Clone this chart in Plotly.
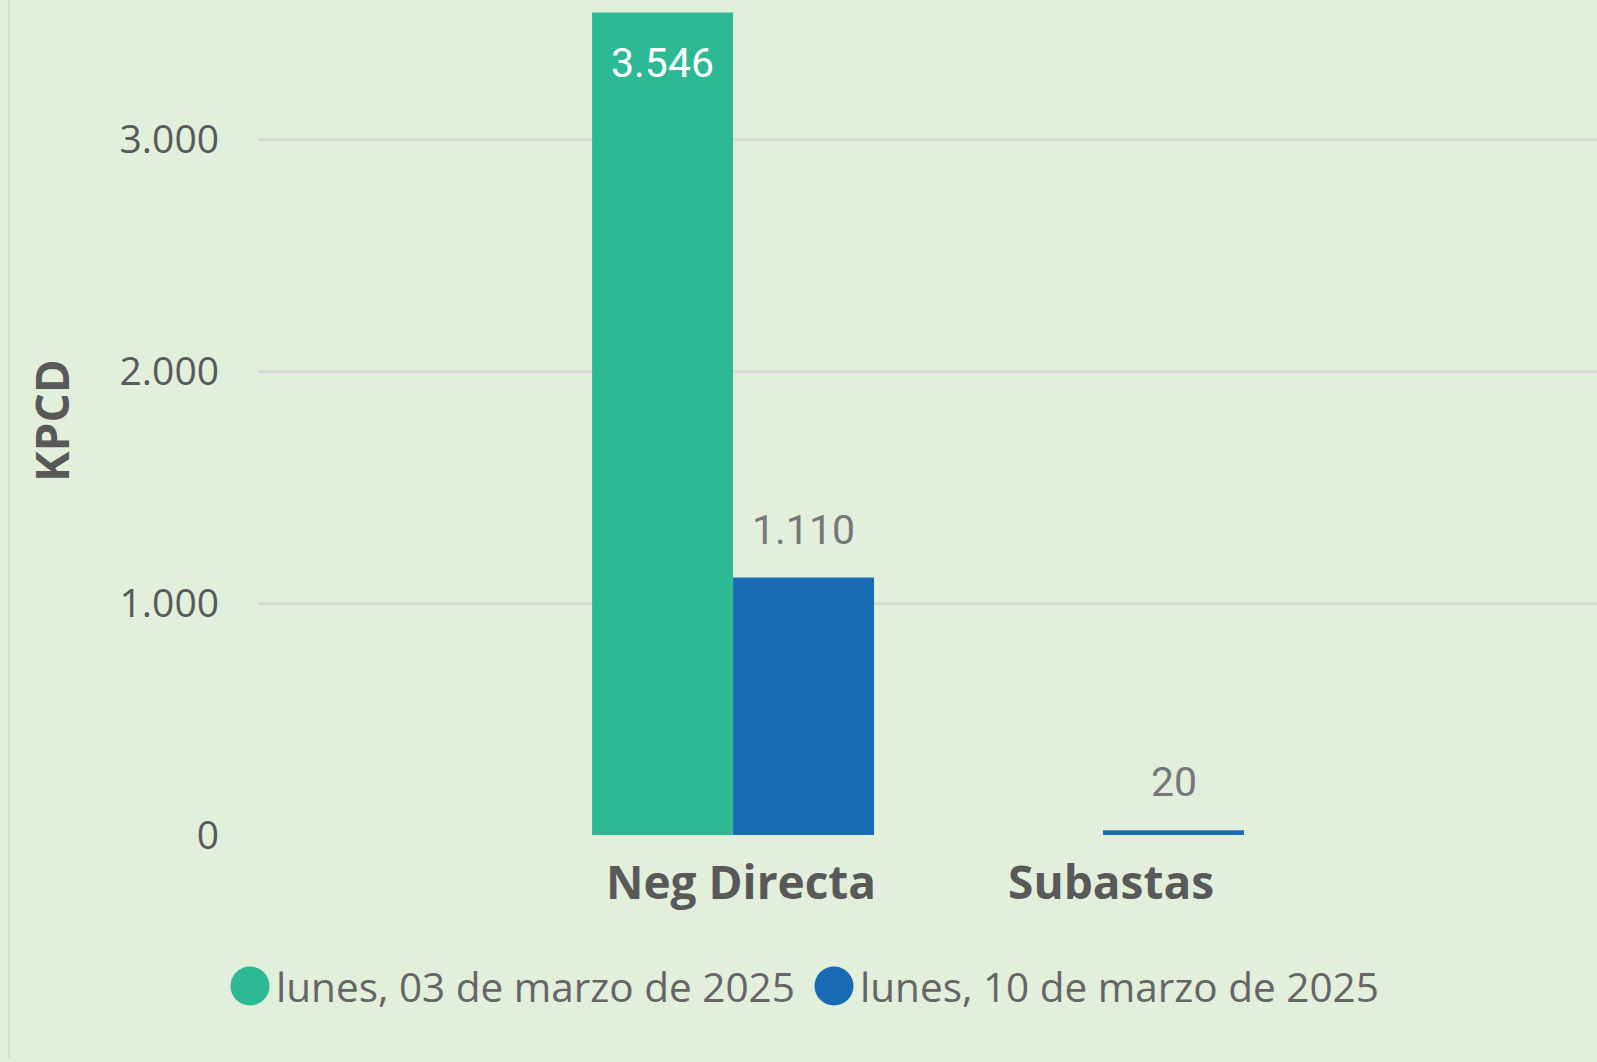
import plotly.graph_objects as go

categories = ["Neg Directa", "Subastas"]
series_names = ["lunes, 03 de marzo de 2025", "lunes, 10 de marzo de 2025"]
values_0303 = [3546, 0]
values_1003 = [1110, 20]
y_ticks = [0, 1000, 2000, 3000]
y_title = "KPCD"

colors = ["#2CB994", "#1A6BB5"]
BG = "#E2EFDA"

W, H = 1597, 1062
ML, MR, MT, MB = 258, 0, 0, 227

fig = go.Figure()
for name, vals, col in zip(series_names, [values_0303, values_1003], colors):
    fig.add_trace(go.Bar(
        x=categories, y=vals, name=name, marker=dict(color=col, line=dict(width=0)),
        showlegend=False, hoverinfo="x+y",
    ))

def fmt(v):
    return f"{v:,.0f}".replace(",", ".")

# data labels
half = 70.5
for i, (vals, col) in enumerate(zip([values_0303, values_1003], colors)):
    shift = -half if i == 0 else half
    for cat, v in zip(categories, vals):
        if v <= 0:
            continue
        inside = v > 3000
        fig.add_annotation(
            x=cat, y=v, xref="x", yref="y", xshift=shift,
            yshift=-24 if inside else 22,
            yanchor="top" if inside else "bottom",
            text=fmt(v), showarrow=False,
            font=dict(family="Roboto", size=41, color="#FFFFFF" if inside else "#777777"),
        )

# y title
fig.add_annotation(
    x=51, y=421, xref="paper", yref="paper", text=f"<b>{y_title}</b>", showarrow=False,
    xanchor="center", yanchor="middle",
    textangle=-90, font=dict(family="Open Sans", size=46, color="#595959"),
)

# manual legend
leg_y = 986
r = 19.5
leg_items = [(250, 274), (834, 858)]
for (cx, tx), name, col in zip(leg_items, series_names, colors):
    fig.add_shape(type="circle", xref="paper", yref="paper",
                  x0=cx - r, x1=cx + r, y0=leg_y - r, y1=leg_y + r,
                  fillcolor=col, line=dict(width=0))
    fig.add_annotation(x=tx, y=leg_y, xref="paper", yref="paper", text=name,
                       showarrow=False, xanchor="left", yanchor="middle",
                       font=dict(family="Open Sans", size=40.5, color="#666666"))

# left border line
fig.add_shape(type="line", xref="paper", yref="paper", x0=9, x1=9, y0=0, y1=1058,
              line=dict(color="#D5E2CE", width=2))

# convert pixel positions to paper coordinates
pw = W - ML - MR
ph = H - MT - MB
def px_to_paper_x(px):
    return (px - ML) / pw
def px_to_paper_y(py):
    return (H - MB - py) / ph

for a in fig.layout.annotations:
    if a.xref == "paper":
        a.x = px_to_paper_x(a.x)
        a.y = px_to_paper_y(a.y)
for s in fig.layout.shapes:
    if s.xref == "paper":
        s.x0 = px_to_paper_x(s.x0); s.x1 = px_to_paper_x(s.x1)
        y0, y1 = px_to_paper_y(s.y0), px_to_paper_y(s.y1)
        s.y0, s.y1 = min(y0, y1), max(y0, y1)

fig.update_layout(
    width=W, height=H,
    margin=dict(l=ML, r=MR, t=MT, b=MB, pad=0),
    paper_bgcolor=BG, plot_bgcolor=BG,
    barmode="group", bargap=0.238, bargroupgap=0,
    separators=",.",
    showlegend=False,
    xaxis=dict(
        type="category", range=[-1.284, 2.335], showgrid=False, zeroline=False, showline=False,
        ticks="outside", ticklen=8, tickcolor="rgba(0,0,0,0)", ticklabelshift=8,
        tickfont=dict(family="Open Sans", size=46, color="#595959", weight="bold"),
    ),
    yaxis=dict(
        range=[0, 3600], tickvals=y_ticks, ticktext=[fmt(v) for v in y_ticks],
        showgrid=True, gridcolor="#D9D9D9", gridwidth=3,
        zeroline=False, showline=False, ticklabelstandoff=38,
        tickfont=dict(family="Open Sans", size=39, color="#5A5A5A"),
    ),
)

fig.write_html("out.html", config={"displayModeBar": False},
               post_script="document.body.style.margin='0';")
